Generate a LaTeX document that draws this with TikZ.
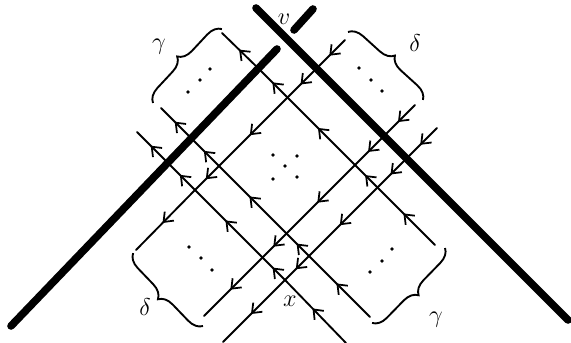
\documentclass[tikz,border=0pt]{standalone}
\usepackage{amsmath,amssymb}
\usepackage{tikz}
\usetikzlibrary{arrows.meta,calc,decorations.pathreplacing,decorations.markings}
\tikzset{
  fal/.style={line width=6.5pt,line cap=round},
  szal/.style={line width=1.6pt,line cap=round},
  szakasz/.style={szal,postaction={decorate},decoration={markings,
      mark=at position 0.55 with {\arrow{Straight Barb[length=7pt,width=11pt,line width=1.5pt]}}}},
  kapocs/.style={line width=1.6pt,decorate,decoration={brace,amplitude=12pt,aspect=0.5}},
  pont/.style={circle,fill,inner sep=0pt,minimum size=3.2pt},
  cimke/.style={font=\huge,inner sep=0pt},
}

\begin{document}
\begin{tikzpicture}[x=0.03cm,y=-0.03cm]
  \useasboundingbox (0,0) rectangle (571,343);
  \draw[fal] (11,326) -- (277,49);
  \draw[fal] (294,30) -- (313,9);
  \draw[fal] (256,8) -- (568,320);

  \foreach \g/\c in {1/190,2/53,3/5}
    \foreach \d/\e in {0/330,1/385,2/520,3/565}
      \coordinate (k\g\d) at ({(\e+\c)/2},{(\e-\c)/2});
  \foreach \d/\e in {1/385,2/520,3/565}
    \coordinate (dr\d) at ({(\e+248)/2},{(\e-248)/2});
  \coordinate (gs1) at (222,33);
  \coordinate (ge1) at (435,245);
  \coordinate (gs2) at (161,108);
  \coordinate (ge2) at (370,317);
  \coordinate (gs3) at (137,132);
  \coordinate (ge3) at (346,343);
  \coordinate (ds1) at (345,40);
  \coordinate (de1) at (136,250);
  \coordinate (ds2) at (415,105);
  \coordinate (de2) at (204,316);
  \coordinate (ds3) at (437,128);
  \coordinate (de3) at (223,342);

  \foreach \g in {1,2,3}
    \foreach \a/\b in {ge\g/k\g3,k\g3/k\g2,k\g2/k\g1,k\g1/k\g0,k\g0/gs\g}
      \draw[szakasz] (\a) -- (\b);
  \foreach \d in {1,2,3}
    \foreach \a/\b in {ds\d/dr\d,dr\d/k1\d,k1\d/k2\d,k2\d/k3\d,k3\d/de\d}
      \draw[szakasz] (\a) -- (\b);

  \draw[kapocs] (153,103) -- (222,29);
  \draw[kapocs] (348,32) -- (423,100);
  \draw[kapocs] (203,326) -- (133,253);
  \draw[kapocs] (445,248) -- (372,323);

  \node[cimke] (lg1) at (159,47) {$\gamma$};
  \node[cimke] (ld1) at (415,43) {$\delta$};
  \node[cimke] (ld2) at (145,307) {$\delta$};
  \node[cimke] (lg2) at (436,320) {$\gamma$};
  \node[cimke] (lv) at (284,19) {$v$};
  \node[cimke] (lx) at (290,301) {$x$};

  \foreach \p [count=\i] in {(210,69),(200,80),(188,92),(359,68),(371,80),(382,91),
      (189,247),(201,258),(212,270),(370,272),(382,261),(392,249),
      (273,155),(297,156),(285,166),(273,179),(297,177)}
    \node[pont] (p\i) at \p {};
\end{tikzpicture}
\end{document}
